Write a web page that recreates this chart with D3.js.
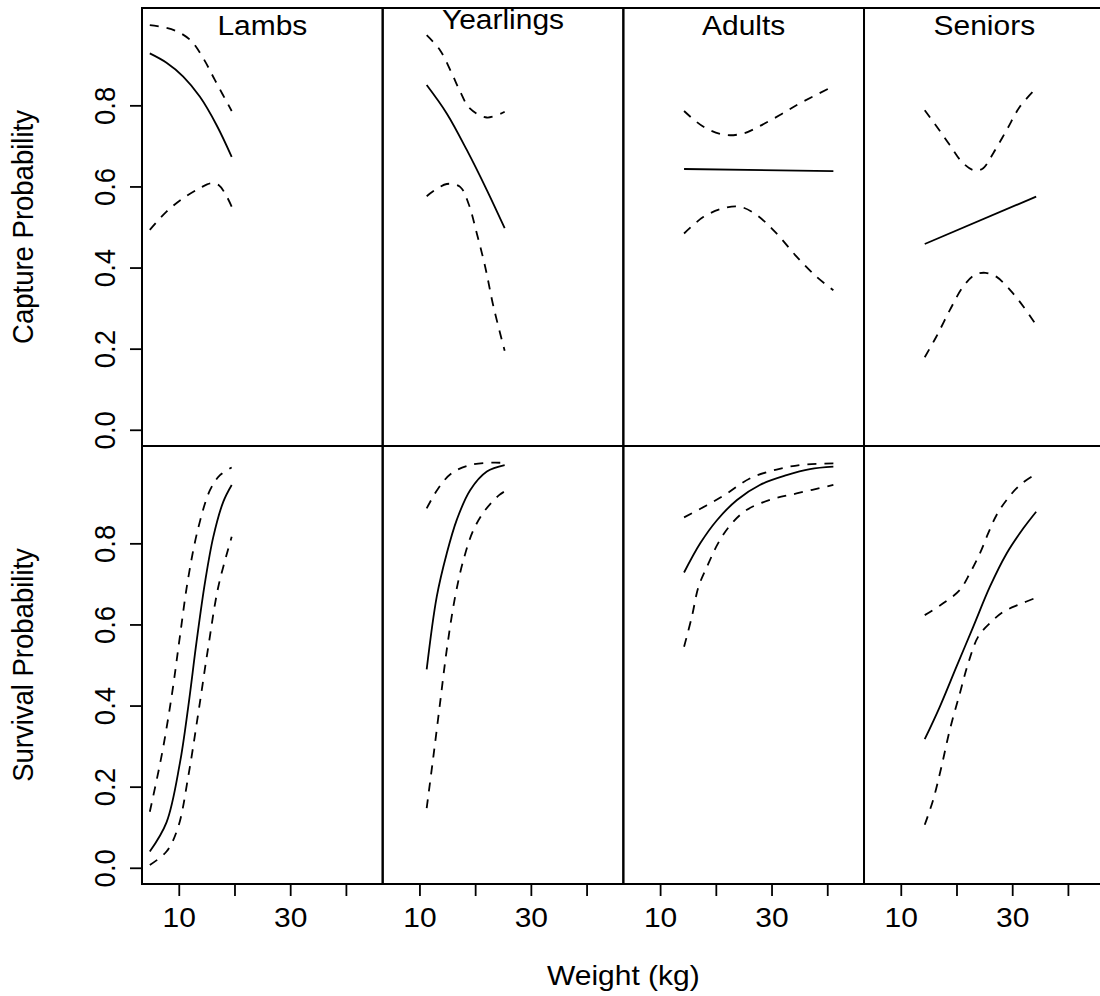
<!DOCTYPE html>
<html>
<head>
<meta charset="utf-8">
<script src="https://cdn.jsdelivr.net/npm/d3@7"></script>
<style>
  html, body { margin: 0; padding: 0; background: #fff; }
  svg { display: block; }
  text { font-family: "Liberation Sans", Arial, Helvetica, sans-serif; fill: #000; }
</style>
</head>
<body>
<svg id="chart" width="1100" height="996"></svg>
<script>
// ---------------- data ----------------
const groups = ["Lambs", "Yearlings", "Adults", "Seniors"];
const rowLabels = ["Capture Probability", "Survival Probability"];
const xLabel = "Weight (kg)";
const xTicks = [10, 20, 30, 40];
const xTickLabels = ["10", "", "30", ""];
const yTicks = [0, 0.2, 0.4, 0.6, 0.8];
const yTickLabels = ["0.0", "0.2", "0.4", "0.6", "0.8"];

// Capture probability: [weight, value]
const lambsCapFit = [[4.8,0.928],[7.8,0.905],[10.8,0.871],[13.8,0.821],[16.8,0.751],[19.5,0.673]];
const lambsCapHi  = [[4.8,0.998],[7.5,0.992],[9.9,0.981],[12.3,0.958],[14.4,0.916],[16.5,0.862],[19.5,0.786]];
const lambsCapLo  = [[4.8,0.493],[7.8,0.538],[10.8,0.571],[13.8,0.596],[15.8,0.608],[17.2,0.603],[18.5,0.578],[19.5,0.550]];

const yearCapFit = [[11.3,0.850],[14.9,0.780],[18.5,0.690],[22.1,0.591],[25.3,0.497]];
const yearCapHi  = [[11.3,0.973],[13.7,0.936],[15.8,0.879],[17.3,0.834],[19.0,0.793],[22.1,0.770],[25.3,0.784]];
const yearCapLo  = [[11.3,0.576],[14.9,0.606],[17.3,0.599],[18.8,0.558],[20.3,0.484],[21.8,0.402],[23.3,0.303],[25.3,0.195]];

const adultCapFit = [[14.3,0.643],[41.1,0.638]];
const adultCapHi  = [[14.3,0.786],[17.8,0.747],[21.7,0.727],[25.0,0.731],[27.9,0.749],[31.5,0.776],[35.1,0.805],[41.1,0.847]];
const adultCapLo  = [[14.3,0.484],[17.8,0.525],[21.3,0.546],[24.3,0.550],[27.3,0.530],[30.9,0.484],[34.5,0.427],[38.1,0.377],[41.1,0.344]];

const seniorCapFit = [[14.3,0.458],[34.3,0.575]];
const seniorCapHi  = [[14.3,0.788],[16.7,0.743],[18.8,0.702],[21.2,0.657],[23.3,0.639],[24.8,0.645],[26.6,0.682],[29.0,0.739],[31.4,0.797],[34.3,0.842]];
const seniorCapLo  = [[14.3,0.179],[16.4,0.230],[18.8,0.295],[21.2,0.353],[23.3,0.382],[25.2,0.387],[27.2,0.377],[29.6,0.345],[32.0,0.304],[34.3,0.258]];

// Survival probability: [weight, value]
const lambsSurvFit = [[4.8,0.040],[7.8,0.112],[10.2,0.258],[11.7,0.397],[13.2,0.558],[14.7,0.703],[16.2,0.816],[18.0,0.903],[19.5,0.944]];
const lambsSurvHi  = [[4.8,0.138],[7.0,0.282],[8.8,0.430],[10.2,0.570],[11.7,0.715],[13.5,0.838],[15.6,0.931],[17.4,0.968],[19.5,0.987]];
const lambsSurvLo  = [[4.8,0.007],[7.8,0.040],[9.9,0.101],[11.7,0.225],[13.5,0.381],[15.3,0.545],[17.1,0.693],[19.5,0.816]];

const yearSurvFit = [[11.3,0.489],[13.1,0.668],[14.9,0.775],[16.7,0.858],[19.1,0.931],[22.1,0.977],[25.3,0.993]];
const yearSurvHi  = [[11.3,0.886],[13.4,0.936],[15.8,0.973],[19.1,0.993],[23.3,0.999],[25.3,0.998]];
const yearSurvLo  = [[11.3,0.147],[12.5,0.274],[13.7,0.406],[14.9,0.537],[16.4,0.668],[17.9,0.759],[19.7,0.833],[21.8,0.882],[24.3,0.919],[25.3,0.928]];

const adultSurvFit = [[14.3,0.728],[17.2,0.800],[20.2,0.857],[23.8,0.907],[27.9,0.944],[32.7,0.968],[36.9,0.983],[41.1,0.989]];
const adultSurvHi  = [[14.3,0.864],[18.4,0.894],[22.0,0.923],[26.1,0.960],[30.9,0.982],[35.7,0.994],[41.1,0.997]];
const adultSurvLo  = [[14.3,0.545],[15.7,0.619],[16.9,0.693],[18.7,0.751],[20.4,0.800],[22.6,0.845],[25.5,0.882],[29.7,0.907],[34.5,0.923],[41.1,0.944]];

const seniorSurvFit = [[14.3,0.317],[17.0,0.397],[20.0,0.496],[23.0,0.594],[26.0,0.693],[29.0,0.775],[32.0,0.837],[34.3,0.878]];
const seniorSurvHi  = [[14.3,0.623],[17.6,0.652],[20.6,0.685],[22.4,0.726],[24.2,0.775],[25.7,0.825],[27.2,0.870],[29.0,0.907],[31.4,0.944],[34.3,0.971]];
const seniorSurvLo  = [[14.3,0.106],[15.8,0.167],[17.3,0.249],[18.8,0.340],[20.6,0.430],[22.1,0.504],[23.9,0.570],[26.0,0.603],[28.4,0.631],[31.4,0.650],[34.3,0.666]];

const panelData = [
  [ {fit: lambsCapFit, hi: lambsCapHi, lo: lambsCapLo},
    {fit: yearCapFit, hi: yearCapHi, lo: yearCapLo},
    {fit: adultCapFit, hi: adultCapHi, lo: adultCapLo},
    {fit: seniorCapFit, hi: seniorCapHi, lo: seniorCapLo} ],
  [ {fit: lambsSurvFit, hi: lambsSurvHi, lo: lambsSurvLo},
    {fit: yearSurvFit, hi: yearSurvHi, lo: yearSurvLo},
    {fit: adultSurvFit, hi: adultSurvHi, lo: adultSurvLo},
    {fit: seniorSurvFit, hi: seniorSurvHi, lo: seniorSurvLo} ]
];

// ---------------- layout ----------------
(function draw() {
  const svg = d3.select("#chart");
  const padLeft = 142, padTop = 8;
  const panelW = 240.67, panelH = 438;
  const fontSize = 27.5;
  const sx = 1.09; // horizontal glyph stretch seen in the reference

  const x = d3.scaleLinear().domain([3.4, 46.6]).range([0, panelW]);
  const y = d3.scaleLinear().domain([-0.04, 1.04]).range([panelH, 0]);

  const line = d3.line()
    .x(d => x(d[0]))
    .y(d => y(d[1]))
    .curve(d3.curveCatmullRom.alpha(0.5));

  for (let r = 0; r < 2; r++) {
    for (let c = 0; c < 4; c++) {
      const g = svg.append("g")
        .attr("transform", `translate(${padLeft + c * panelW},${padTop + r * panelH})`);
      const d = panelData[r][c];
      g.append("path").attr("d", line(d.fit))
        .attr("fill", "none").attr("stroke", "#000").attr("stroke-width", 1.8);
      [d.hi, d.lo].forEach(s => {
        g.append("path").attr("d", line(s))
          .attr("fill", "none").attr("stroke", "#000").attr("stroke-width", 1.8)
          .attr("stroke-dasharray", "9,8");
      });
      g.append("rect")
        .attr("x", 0).attr("y", 0).attr("width", panelW).attr("height", panelH)
        .attr("fill", "none").attr("stroke", "#000").attr("stroke-width", 2);

      if (r === 0) {
        const title = groups[c];
        const hasDesc = /[gjpqy]/.test(title);
        g.append("text")
          .attr("transform", `translate(${panelW / 2},${hasDesc ? 20.5 : 27}) scale(${sx},1)`)
          .attr("text-anchor", "middle")
          .attr("font-size", fontSize)
          .text(title);
      }

      if (r === 1) {
        const ax = g.append("g").attr("transform", `translate(0,${panelH})`)
          .call(d3.axisBottom(x).tickValues(xTicks)
            .tickFormat((v, i) => xTickLabels[i]).tickSize(12).tickPadding(11));
        ax.select(".domain").remove();
        ax.selectAll("line").attr("stroke", "#000").attr("stroke-width", 1.8);
        ax.selectAll("text").attr("font-size", fontSize).attr("font-family", null)
          .attr("fill", "#000").attr("transform", `scale(${sx},1)`);
      }

      if (c === 0) {
        const ay = g.append("g")
          .call(d3.axisLeft(y).tickValues(yTicks)
            .tickFormat((v, i) => yTickLabels[i]).tickSize(12));
        ay.select(".domain").remove();
        ay.selectAll("line").attr("stroke", "#000").attr("stroke-width", 1.8);
        ay.selectAll("text")
          .attr("font-size", fontSize).attr("font-family", null).attr("fill", "#000")
          .attr("text-anchor", "middle")
          .attr("x", null).attr("dy", null)
          .attr("transform", `translate(-27,0) scale(${sx},1) rotate(-90)`);
        g.append("text")
          .attr("transform", `translate(${33 - padLeft},${panelH / 2}) scale(${sx},1) rotate(-90)`)
          .attr("text-anchor", "middle")
          .attr("font-size", fontSize)
          .text(rowLabels[r]);
      }
    }
  }

  svg.append("text")
    .attr("transform", `translate(${padLeft + 2 * panelW},985) scale(${sx},1)`)
    .attr("text-anchor", "middle")
    .attr("font-size", fontSize)
    .text(xLabel);
})();
</script>
</body>
</html>
